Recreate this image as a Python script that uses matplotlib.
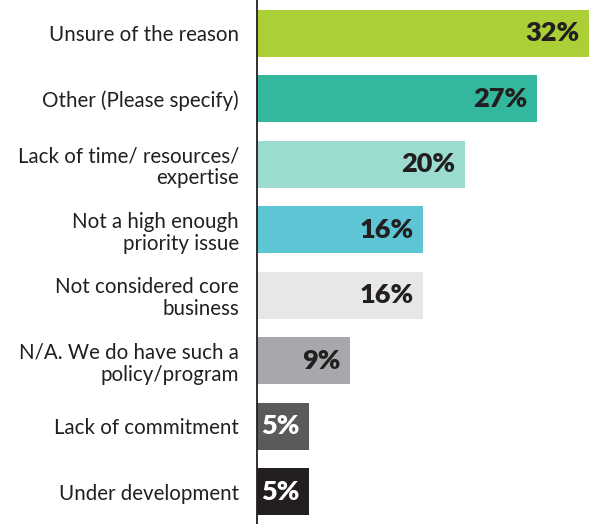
import matplotlib
matplotlib.use('Agg')
import matplotlib.pyplot as plt

# reasons and share of respondents (%)
categories = ['Unsure of the reason', 'Other (Please specify)',
              'Lack of time/ resources/\nexpertise',
              'Not a high enough\npriority issue',
              'Not considered core\nbusiness',
              'N/A. We do have such a\npolicy/program',
              'Lack of commitment', 'Under development']
values = [32, 27, 20, 16, 16, 9, 5, 5]
bar_colors = ['#abcf37', '#33b89d', '#9cdbd0', '#5ec5d4',
              '#e6e7e6', '#a7a8ab', '#5a5a5c', '#231f20']
label_colors = ['#231f20'] * 6 + ['white', 'white']

plt.rcParams['font.family'] = ['Lato', 'DejaVu Sans']

fig = plt.figure(figsize=(5.89, 5.24), dpi=100)
ax = fig.add_axes([257 / 589, 0, 1 - 257 / 589, 1])

ypos = list(range(len(values)))
ax.barh(ypos, values, height=0.72, color=bar_colors)

for y, v, c in zip(ypos, values, label_colors):
    ax.annotate(f'{v}%', xy=(v, y), xytext=(-7, 0), textcoords='offset points',
                ha='right', va='center', fontsize=19.5, fontweight='heavy', color=c)

ax.set_xlim(0, 32)
ax.set_ylim(7.49, -0.51)
ax.set_yticks(ypos)
ax.set_yticklabels(categories, fontsize=14.8, color='#231f20', linespacing=1.12)
ax.tick_params(axis='y', length=0, pad=13)
ax.set_xticks([])
for side in ['top', 'right', 'bottom']:
    ax.spines[side].set_visible(False)
ax.spines['left'].set_linewidth(1.3)
ax.spines['left'].set_color('#231f20')

fig.savefig('out.png', dpi=100)
